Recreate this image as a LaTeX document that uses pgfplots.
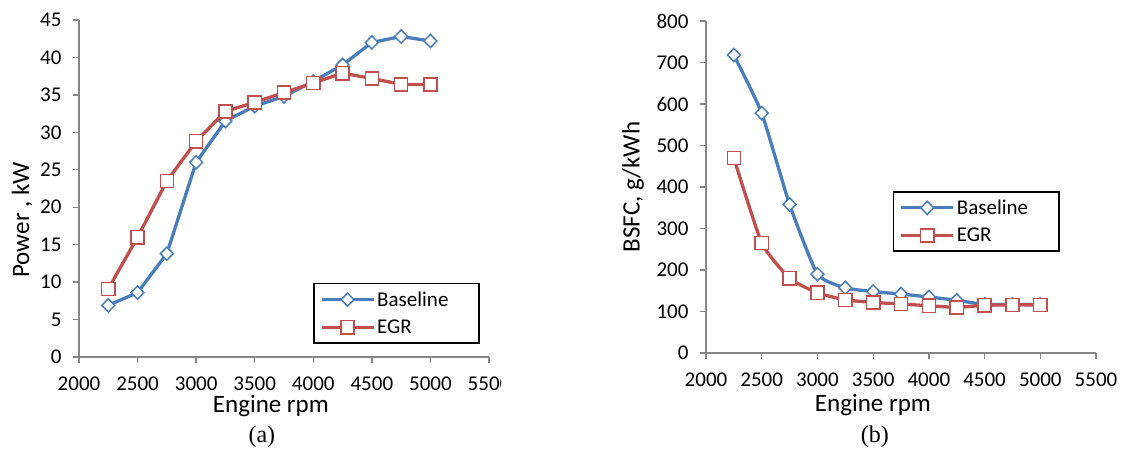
\documentclass[border=0pt]{standalone}
\usepackage{fontspec}
\setmainfont{Carlito}
\newfontfamily\capfont{Liberation Serif}
\usepackage{pgfplots}
\pgfplotsset{compat=1.18}

\definecolor{xlblue}{RGB}{74,126,187}
\definecolor{xlred}{RGB}{192,80,77}
\definecolor{axgray}{RGB}{134,134,134}

\pgfplotsset{
  xlstyle/.style={
    scale only axis, clip mode=individual,
    axis x line*=bottom, axis y line*=left,
    axis line style={axgray, line width=1.3pt},
    every tick/.style={axgray, line width=1.3pt},
    tick align=outside, major tick length=6pt,
    xmin=2000, xmax=5500, xtick distance=500,
    /pgf/number format/assume math mode=true,
    /pgf/number format/1000 sep={},
    tick label style={font=\fontsize{21}{24}\selectfont, black},
    xticklabel style={yshift=-10pt},
    yticklabel style={xshift=-8pt},
    label style={font=\fontsize{25}{28}\selectfont},
    legend style={draw=black, line width=1.6pt, font=\fontsize{21}{24}\selectfont,
      anchor=north west, row sep=8pt, inner xsep=6pt, inner ysep=6pt},
    legend cell align=left,
    legend image code/.code={
      \draw[mark repeat=2, mark phase=2, #1] plot coordinates {(0pt,0pt) (26pt,0pt) (52pt,0pt)};
    },
  },
  base/.style={xlblue, line width=3.3pt, mark=diamond*,
    mark options={solid, fill=white, line width=1.5pt, scale=3.3, xscale=1.3}},
  egr/.style={xlred, line width=3.3pt, mark=square*,
    mark options={solid, fill=white, line width=1.5pt, scale=3.3}},
}

\begin{document}
\begin{tikzpicture}[x=1pt, y=1pt]
\useasboundingbox (0,0) rectangle (1126,448);

\begin{scope}
\clip (0,0) rectangle (500,448);
\begin{axis}[xlstyle,
  at={(79pt,91pt)}, anchor=south west,
  width=410pt, height=337pt,
  ymin=0, ymax=45, ytick distance=5,
  xlabel={Engine rpm}, ylabel={Power , kW},
  xlabel style={at={(axis description cs:0.468,-0.146)}, anchor=center},
  ylabel style={at={(axis description cs:-0.139,0.407)}, anchor=center},
  legend style={at={(axis description cs:0.571,0.22)}, text width=94pt},
]
\addplot[base] coordinates {
  (2250,6.9) (2500,8.6) (2750,13.8) (3000,26.0) (3250,31.5) (3500,33.5)
  (3750,34.8) (4000,36.8) (4250,39.0) (4500,42.0) (4750,42.8) (5000,42.2)
};
\addlegendentry{Baseline}
\addplot[egr] coordinates {
  (2250,9.1) (2500,16.0) (2750,23.5) (3000,28.8) (3250,32.8) (3500,34.0)
  (3750,35.3) (4000,36.6) (4250,37.9) (4500,37.2) (4750,36.4) (5000,36.4)
};
\addlegendentry{EGR}
\node[font=\capfont\fontsize{24}{26}\selectfont] at (axis description cs:0.446,-0.237) {(a)};
\end{axis}
\end{scope}

\begin{axis}[xlstyle,
  at={(706pt,95pt)}, anchor=south west,
  width=390pt, height=332pt,
  ymin=0, ymax=800, ytick distance=100,
  xlabel={Engine rpm}, ylabel={BSFC, g/kWh},
  xlabel style={at={(axis description cs:0.428,-0.158)}, anchor=center},
  ylabel style={at={(axis description cs:-0.187,0.5)}, anchor=center},
  legend style={at={(axis description cs:0.479,0.488)}, text width=94pt},
]
\addplot[base, smooth, tension=0.3] coordinates {
  (2250,718) (2500,578) (2750,358) (3000,190) (3250,157) (3500,148)
  (3750,142) (4000,135) (4250,127) (4500,117) (4750,117) (5000,117)
};
\addlegendentry{Baseline}
\addplot[egr, smooth, tension=0.3] coordinates {
  (2250,470) (2500,265) (2750,180) (3000,145) (3250,128) (3500,122)
  (3750,118) (4000,114) (4250,110) (4500,115) (4750,116) (5000,116)
};
\addlegendentry{EGR}
\node[font=\capfont\fontsize{24}{26}\selectfont] at (axis description cs:0.433,-0.253) {(b)};
\end{axis}
\end{tikzpicture}
\end{document}
